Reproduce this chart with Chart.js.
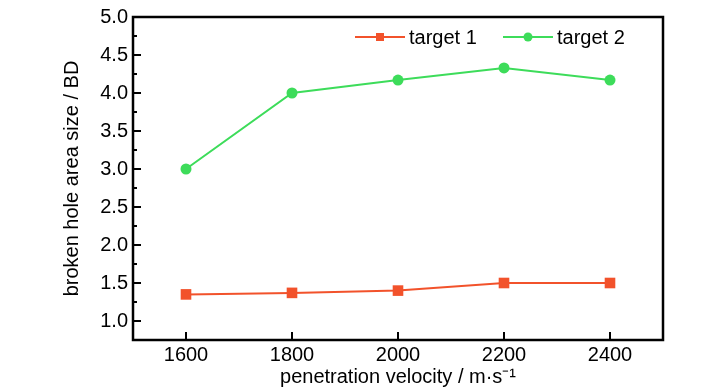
<!DOCTYPE html>
<html>
<head>
<meta charset="utf-8">
<script src="https://cdn.jsdelivr.net/npm/chart.js@4.4.1/dist/chart.umd.min.js"></script>
<style>
  html, body { margin: 0; padding: 0; background: #fff; }
  #wrap { width: 728px; height: 390px; }
</style>
</head>
<body>
<div id="wrap"><canvas id="chart" width="728" height="390"></canvas></div>
<script>
// data
const velocities = [1600, 1800, 2000, 2200, 2400];
const target1 = [1.35, 1.37, 1.40, 1.50, 1.50];
const target2 = [3.00, 4.00, 4.17, 4.33, 4.17];
const xTicks = [1600, 1800, 2000, 2200, 2400];
const yTicks = [1.0, 1.5, 2.0, 2.5, 3.0, 3.5, 4.0, 4.5, 5.0];
const yMinorTicks = [0.75, 1.25, 1.75, 2.25, 2.75, 3.25, 3.75, 4.25, 4.75];

const FONT = '"Liberation Sans", Arial, sans-serif';
const RED = '#f2522b';
const GREEN = '#3ddc5a';

// frame, inward ticks and in-plot legend
const framePlugin = {
    id: 'frame',
    afterDraw(chart) {
        const ctx = chart.ctx;
        const a = chart.chartArea;
        const x = chart.scales.x, y = chart.scales.y;
        ctx.save();
        ctx.strokeStyle = '#000';
        ctx.lineWidth = 2;
        ctx.beginPath();
        yTicks.forEach(v => {
            const p = Math.round(y.getPixelForValue(v));
            ctx.moveTo(a.left, p); ctx.lineTo(a.left + 8, p);
        });
        yMinorTicks.forEach(v => {
            const p = Math.round(y.getPixelForValue(v));
            if (p < a.bottom - 2) { ctx.moveTo(a.left, p); ctx.lineTo(a.left + 4, p); }
        });
        xTicks.forEach(v => {
            const p = Math.round(x.getPixelForValue(v));
            ctx.moveTo(p, a.bottom); ctx.lineTo(p, a.bottom - 8);
        });
        ctx.stroke();
        ctx.lineWidth = 2.5;
        ctx.strokeRect(a.left, a.top, a.right - a.left, a.bottom - a.top);

        // legend
        const items = [
            { x: 355, ds: chart.data.datasets[0] },
            { x: 503, ds: chart.data.datasets[1] }
        ];
        const ly = 37;
        items.forEach(it => {
            ctx.strokeStyle = it.ds.borderColor;
            ctx.fillStyle = it.ds.borderColor;
            ctx.lineWidth = 2;
            ctx.beginPath();
            ctx.moveTo(it.x, ly); ctx.lineTo(it.x + 50, ly);
            ctx.stroke();
            if (it.ds.pointStyle === 'rect') {
                ctx.fillRect(it.x + 21, ly - 4, 8, 8);
            } else {
                ctx.beginPath();
                ctx.arc(it.x + 25, ly, 4.5, 0, Math.PI * 2);
                ctx.fill();
            }
            ctx.fillStyle = '#000';
            ctx.font = '20px ' + FONT;
            ctx.textBaseline = 'middle';
            ctx.fillText(it.ds.label, it.x + 54, ly + 1);
        });
        ctx.restore();
    }
};

new Chart(document.getElementById('chart'), {
    type: 'line',
    data: {
        datasets: [
            {
                label: 'target 1',
                data: velocities.map((v, i) => ({ x: v, y: target1[i] })),
                borderColor: RED,
                backgroundColor: RED,
                borderWidth: 2,
                pointStyle: 'rect',
                pointRadius: 7.5,
                pointBorderWidth: 0,
                tension: 0
            },
            {
                label: 'target 2',
                data: velocities.map((v, i) => ({ x: v, y: target2[i] })),
                borderColor: GREEN,
                backgroundColor: GREEN,
                borderWidth: 2,
                pointStyle: 'circle',
                pointRadius: 5.5,
                pointBorderWidth: 0,
                tension: 0
            }
        ]
    },
    options: {
        responsive: false,
        animation: false,
        devicePixelRatio: 1,
        layout: { padding: { left: 60, right: 65, top: 14, bottom: 0 } },
        plugins: { legend: { display: false }, tooltip: { enabled: false } },
        scales: {
            x: {
                type: 'linear',
                min: 1500,
                max: 2500,
                afterBuildTicks: s => { s.ticks = xTicks.map(v => ({ value: v })); },
                afterFit: s => { s.height = 50; },
                grid: { display: false, drawTicks: false, tickLength: 0 },
                border: { display: false },
                ticks: {
                    color: '#000',
                    font: { family: FONT, size: 20 },
                    padding: 3,
                    maxRotation: 0,
                    callback: v => String(v)
                },
                title: {
                    display: true,
                    text: 'penetration velocity / m\u00b7s\u207b\u00b9',
                    color: '#000',
                    font: { family: FONT, size: 20 },
                    padding: { top: 0, bottom: 1 }
                }
            },
            y: {
                type: 'linear',
                min: 0.75,
                max: 5.0,
                afterBuildTicks: s => { s.ticks = yTicks.map(v => ({ value: v })); },
                afterFit: s => { s.width = 73; },
                grid: { display: false, drawTicks: false, tickLength: 0 },
                border: { display: false },
                ticks: {
                    color: '#000',
                    font: { family: FONT, size: 20 },
                    padding: 5,
                    callback: v => v.toFixed(1)
                },
                title: {
                    display: true,
                    text: 'broken hole area size / BD',
                    color: '#000',
                    font: { family: FONT, size: 20 },
                    padding: { top: 0, bottom: 0 }
                }
            }
        }
    },
    plugins: [framePlugin]
});
</script>
</body>
</html>
